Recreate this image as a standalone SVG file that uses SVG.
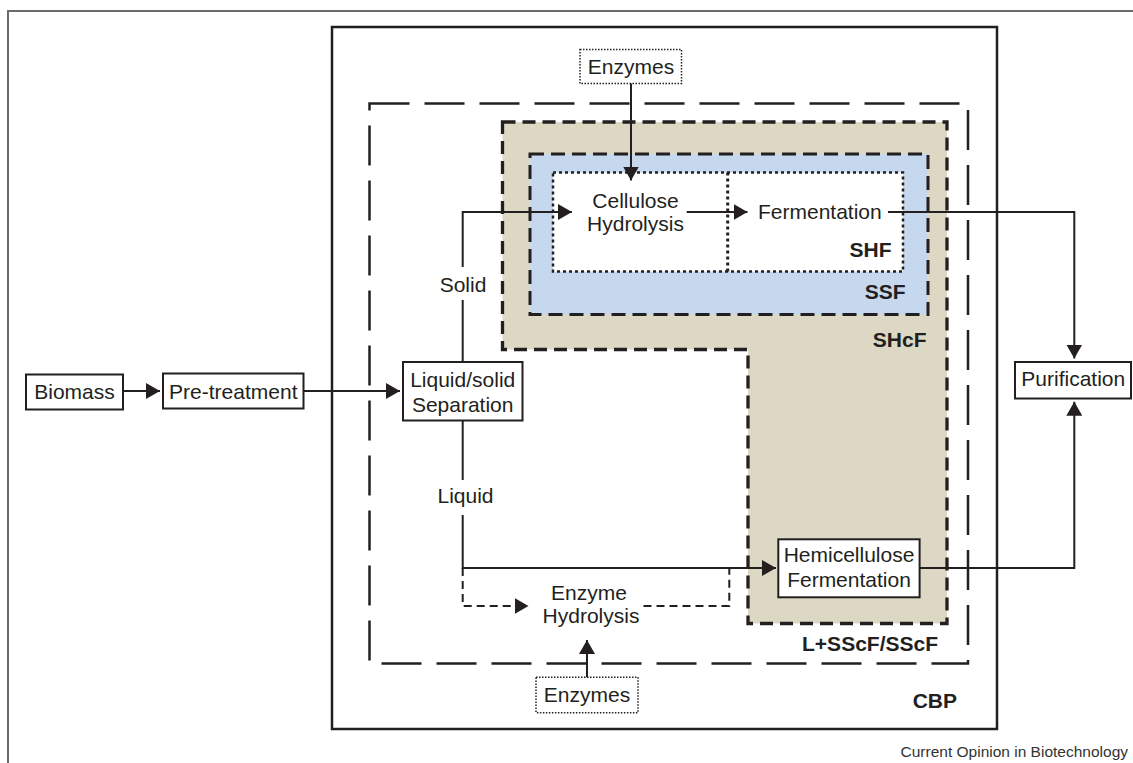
<svg xmlns="http://www.w3.org/2000/svg" width="1133" height="763" viewBox="0 0 1133 763">
<defs>
<marker id="arr" markerUnits="userSpaceOnUse" markerWidth="14" markerHeight="16" viewBox="0 0 14 16" refX="14" refY="8" orient="auto"><path d="M0,0 L14,8 L0,16 z" fill="#231f20"/></marker>
</defs>
<style>
text{font-family:"Liberation Sans",Arial,Helvetica,sans-serif;fill:#231f20}
.t{font-size:21px}
.b{font-size:21px;font-weight:bold;text-anchor:end}
.c{text-anchor:middle}
.box{fill:#fff;stroke:#231f20;stroke-width:2}
.dot{fill:#fff;stroke:#231f20;stroke-width:1.5;stroke-dasharray:1.5 1.5}
.con{fill:none;stroke:#231f20;stroke-width:2}
.dash{fill:none;stroke:#231f20;stroke-width:2;stroke-dasharray:8 5}
</style>
<rect width="1133" height="763" fill="#fff"/>
<g id="frame"><path d="M8,763 V11 H1133" fill="none" stroke="#6b6b6b" stroke-width="2"/></g>

<g id="CBP">
<rect x="332" y="27" width="665" height="702" fill="none" stroke="#231f20" stroke-width="2.5"/>
<text class="b" x="957" y="708">CBP</text>
</g>
<g id="LSSCF">
<rect x="369.5" y="103.5" width="598.5" height="560" fill="none" stroke="#231f20" stroke-width="2.5" stroke-dasharray="40 15"/>
<text class="b" x="938" y="651">L+SScF/SScF</text>
</g>
<g id="SHcF">
<path d="M502.5,122 H947 V623.5 H748 V349.5 H502.5 Z" fill="#dcd8c3" stroke="#231f20" stroke-width="3.3" stroke-dasharray="13 7"/>
<text class="b" x="926.5" y="347">SHcF</text>
</g>
<g id="SSF">
<rect x="530" y="154" width="398" height="160.5" fill="#c6d8ed" stroke="#231f20" stroke-width="3" stroke-dasharray="14 7"/>
<text class="b" x="905.5" y="299">SSF</text>
</g>
<g id="SHF">
<rect x="553" y="172.5" width="350" height="99" fill="#fff" stroke="#231f20" stroke-width="2.5" stroke-dasharray="3 3"/>
<line x1="727.7" y1="172.5" x2="727.7" y2="271.5" stroke="#231f20" stroke-width="3" stroke-dasharray="3 3"/>
<text class="b" x="891.5" y="256.5">SHF</text>
</g>

<g id="enzymes-top">
<rect class="dot" x="580" y="49.5" width="101.5" height="34"/>
<text class="t c" x="631" y="74">Enzymes</text>
</g>
<g id="cellulose-hydrolysis">
<text class="t c" x="635.5" y="208">Cellulose</text>
<text class="t c" x="635.5" y="230.5">Hydrolysis</text>
</g>
<g id="fermentation">
<text class="t" x="758" y="218.5">Fermentation</text>
</g>
<g id="biomass">
<rect class="box" x="26" y="374.5" width="97" height="35"/>
<text class="t c" x="74.5" y="398.5">Biomass</text>
</g>
<g id="pretreatment">
<rect class="box" x="163" y="373.5" width="140.5" height="35"/>
<text class="t c" x="233.3" y="398.5">Pre-treatment</text>
</g>
<g id="separation">
<rect class="box" x="403" y="362" width="119.5" height="58.5"/>
<text class="t c" x="462.7" y="386.7">Liquid/solid</text>
<text class="t c" x="462.7" y="411.7">Separation</text>
</g>
<g id="solid-label"><text class="t c" x="463" y="291.7">Solid</text></g>
<g id="liquid-label"><text class="t c" x="465.5" y="503.3">Liquid</text></g>
<g id="purification">
<rect class="box" x="1015" y="362" width="116" height="36.5"/>
<text class="t c" x="1073.3" y="386">Purification</text>
</g>
<g id="hemicellulose">
<rect class="box" x="778.3" y="539.3" width="141.3" height="58"/>
<text class="t c" x="849" y="561.7">Hemicellulose</text>
<text class="t c" x="849" y="586.7">Fermentation</text>
</g>
<g id="enzyme-hydrolysis">
<text class="t c" x="589" y="600">Enzyme</text>
<text class="t c" x="591" y="623.3">Hydrolysis</text>
</g>
<g id="enzymes-bottom">
<rect class="dot" x="536" y="677.3" width="102" height="35.4"/>
<text class="t c" x="587" y="701.7">Enzymes</text>
</g>

<g id="connectors">
<path class="con" d="M123,391 H160" marker-end="url(#arr)"/>
<path class="con" d="M303.5,391 H400" marker-end="url(#arr)"/>
<path class="con" d="M462.7,362 V300"/>
<path class="con" d="M462.7,267 V212 H572" marker-end="url(#arr)"/>
<path class="con" d="M462.7,420.5 V480"/>
<path class="con" d="M462.7,515 V568 H776" marker-end="url(#arr)"/>
<path class="dash" d="M462.7,568 V606 H528.5" marker-end="url(#arr)"/>
<path class="dash" d="M643.5,606 H729.3 V568"/>
<path class="con" d="M631,83.5 V180.5" marker-end="url(#arr)"/>
<path class="con" d="M686.7,212 H747.5" marker-end="url(#arr)"/>
<path class="con" d="M888,212 H1074.3 V358.5" marker-end="url(#arr)"/>
<path class="con" d="M919.6,568 H1074.3 V401.7" marker-end="url(#arr)"/>
<path class="con" d="M587,677.3 V640" marker-end="url(#arr)"/>
</g>

<g id="credit"><text x="1128" y="756.5" style="font-size:15.5px;text-anchor:end;fill:#333">Current Opinion in Biotechnology</text></g>
</svg>
